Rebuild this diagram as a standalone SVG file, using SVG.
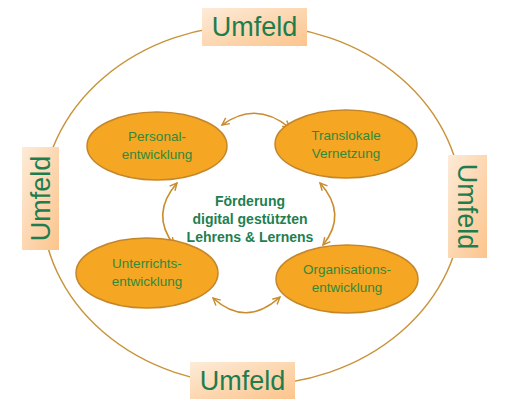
<svg xmlns="http://www.w3.org/2000/svg" width="507" height="400" viewBox="0 0 507 400">
<defs>
<linearGradient id="gH" x1="0" y1="0" x2="1" y2="1">
<stop offset="0" stop-color="#fdebd8"/>
<stop offset="1" stop-color="#fcc48c"/>
</linearGradient>
<marker id="ah" viewBox="0 0 10 10" refX="9" refY="5" markerWidth="9" markerHeight="9" markerUnits="userSpaceOnUse" orient="auto-start-reverse">
<path d="M1,1 L9,5 L1,9" fill="none" stroke="#c98d2e" stroke-width="1.6"/>
</marker>
<style>
.box{fill:url(#gH);}
.um{font-family:"Liberation Sans",Arial,sans-serif;font-size:27px;fill:#1e7d4f;text-anchor:middle;}
.node{fill:#f5a623;stroke:#c4862a;stroke-width:1.5;}
.nt{font-family:"Liberation Sans",Arial,sans-serif;font-size:13.5px;fill:#2f8a3c;text-anchor:middle;}
.ct{font-family:"Liberation Sans",Arial,sans-serif;font-size:14px;font-weight:bold;fill:#1e8050;text-anchor:middle;}
.con{fill:none;stroke:#c98d2e;stroke-width:1.6;marker-start:url(#ah);marker-end:url(#ah);}
</style>
</defs>
<rect width="507" height="400" fill="#ffffff"/>
<g id="umfeld-ring">
<ellipse cx="252" cy="205" rx="210" ry="180" fill="none" stroke="#c9933a" stroke-width="1.5"/>
</g>
<g id="umfeld-top">
<rect class="box" x="202" y="8" width="105" height="38"/>
<text class="um" x="254.5" y="36">Umfeld</text>
</g>
<g id="umfeld-bottom">
<rect class="box" x="190" y="362" width="105" height="37"/>
<text class="um" x="242.5" y="390">Umfeld</text>
</g>
<g id="umfeld-left">
<rect class="box" x="22" y="147" width="37" height="103"/>
<text class="um" transform="translate(50,198.5) rotate(-90)">Umfeld</text>
</g>
<g id="umfeld-right">
<rect class="box" x="448" y="155" width="39" height="103"/>
<text class="um" transform="translate(458,206.5) rotate(90)">Umfeld</text>
</g>
<g id="connectors">
<path class="con" d="M222,125 Q256,100 290,128"/>
<path class="con" d="M177,183 Q150,214 174,245"/>
<path class="con" d="M320,183 Q348,214 323,245"/>
<path class="con" d="M213,298 Q246,328 280,297"/>
</g>
<g id="n-personal">
<ellipse class="node" cx="157" cy="146" rx="70" ry="34"/>
<text class="nt" x="157" y="141">Personal-</text>
<text class="nt" x="157" y="159">entwicklung</text>
</g>
<g id="n-translokal">
<ellipse class="node" cx="346" cy="144" rx="71" ry="34"/>
<text class="nt" x="346" y="140">Translokale</text>
<text class="nt" x="346" y="158">Vernetzung</text>
</g>
<g id="n-unterricht">
<ellipse class="node" cx="147" cy="273" rx="71" ry="35"/>
<text class="nt" x="147" y="268">Unterrichts-</text>
<text class="nt" x="147" y="286">entwicklung</text>
</g>
<g id="n-organisation">
<ellipse class="node" cx="347" cy="279" rx="71" ry="34"/>
<text class="nt" x="347" y="274">Organisations-</text>
<text class="nt" x="347" y="292">entwicklung</text>
</g>
<g id="center">
<text class="ct" x="250" y="206">Förderung</text>
<text class="ct" x="250" y="224">digital gestützten</text>
<text class="ct" x="250" y="242">Lehrens &amp; Lernens</text>
</g>
</svg>
